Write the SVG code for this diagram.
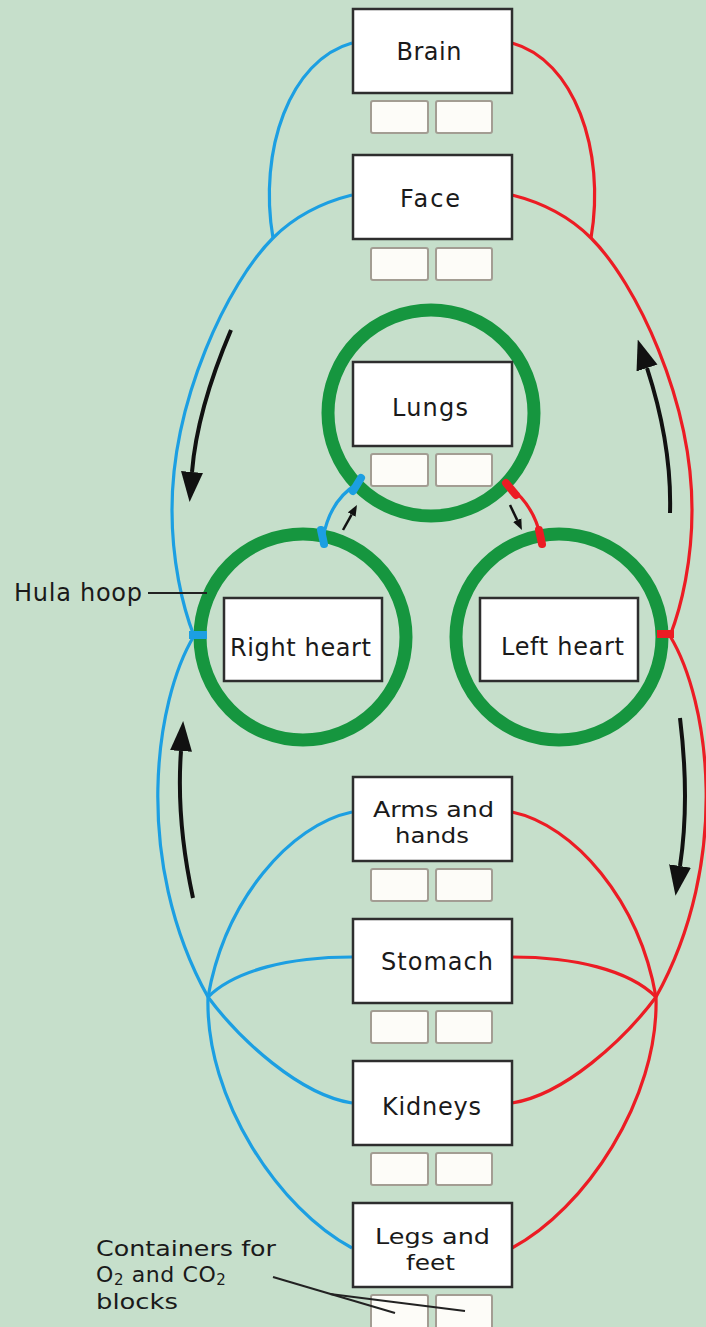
<svg xmlns="http://www.w3.org/2000/svg" width="706" height="1327" viewBox="0 0 706 1327">
<defs>
<style>
.bg{fill:#c6dfcb}
.box{fill:#ffffff;stroke:#2e2e2e;stroke-width:2.5}
.cont{fill:#fdfcf8;stroke:#a39d93;stroke-width:2}
.ring{fill:none;stroke:#16963f;stroke-width:13}
.lbl{font-family:"DejaVu Sans","Liberation Sans",sans-serif;font-size:24px;fill:#1a1a1a;text-anchor:middle}
.lbl2{font-family:"DejaVu Sans","Liberation Sans",sans-serif;font-size:22px;fill:#1a1a1a;text-anchor:middle}
.side{font-family:"DejaVu Sans","Liberation Sans",sans-serif;font-size:24px;fill:#1a1a1a}
.side2{font-family:"DejaVu Sans","Liberation Sans",sans-serif;font-size:22px;fill:#1a1a1a}
.blue{fill:none;stroke:#1c9fe2;stroke-width:3.2}
.red{fill:none;stroke:#ec1c24;stroke-width:3.2}
.btick{stroke:#1c9fe2;stroke-width:8;stroke-linecap:round}
.rtick{stroke:#ec1c24;stroke-width:8;stroke-linecap:round}
.barrow{fill:none;stroke:#111;stroke-width:4;marker-end:url(#bigHead)}
.sarrow{fill:none;stroke:#111;stroke-width:2.5;marker-end:url(#smallHead)}
.pointer{fill:none;stroke:#222;stroke-width:2}
</style>
<marker id="bigHead" markerUnits="userSpaceOnUse" viewBox="0 -12 30 24" refX="0" refY="0" markerWidth="30" markerHeight="24" orient="auto">
<path d="M0,-11 L30,0 L0,11 z" fill="#111"/>
</marker>
<marker id="smallHead" markerUnits="userSpaceOnUse" viewBox="0 -5 12 10" refX="0" refY="0" markerWidth="12" markerHeight="10" orient="auto">
<path d="M0,-4.5 L11,0 L0,4.5 z" fill="#111"/>
</marker>
</defs>
<rect class="bg" x="0" y="0" width="706" height="1327"/>

<g id="rings">
<circle class="ring" cx="431" cy="413" r="103"/>
<circle class="ring" cx="303" cy="637" r="103"/>
<circle class="ring" cx="559" cy="637" r="103"/>
</g>

<g id="connectors">
<path class="blue" d="M352,43 C290,60 258,150 273,238"/>
<path class="blue" d="M352,195 C320,203 293,218 273,238 C228,283 172,400 172,510 C172,560 182,605 194,636"/>
<path class="blue" d="M194,636 C155,700 132,860 208,997"/>
<path class="blue" d="M352,812 C290,825 225,900 208,997"/>
<path class="blue" d="M352,957 C290,957 235,970 208,997"/>
<path class="blue" d="M352,1103 C300,1095 240,1040 208,997"/>
<path class="blue" d="M352,1248 C280,1210 205,1100 208,997"/>
<path class="blue" d="M357,484 Q330,500 323,538"/>
<path class="red" d="M512,43 C574,60 606,150 591,238"/>
<path class="red" d="M512,195 C544,203 571,218 591,238 C636,283 692,400 692,510 C692,560 682,605 670,636"/>
<path class="red" d="M670,636 C709,700 732,860 656,997"/>
<path class="red" d="M512,812 C574,825 639,900 656,997"/>
<path class="red" d="M512,957 C574,957 629,970 656,997"/>
<path class="red" d="M512,1103 C564,1095 624,1040 656,997"/>
<path class="red" d="M512,1248 C584,1210 659,1100 656,997"/>
<path class="red" d="M511,488 Q534,506 541,538"/>
<line class="btick" x1="353" y1="491" x2="361" y2="478"/>
<line class="btick" x1="321" y1="530" x2="324" y2="544"/>
<line class="rtick" x1="506" y1="483" x2="516" y2="495"/>
<line class="rtick" x1="539" y1="530" x2="542" y2="544"/>
<line x1="189" y1="635" x2="207" y2="635" stroke="#1c9fe2" stroke-width="8"/>
<line x1="657" y1="634" x2="674" y2="634" stroke="#ec1c24" stroke-width="8"/>
<path class="barrow" d="M231,330 Q197,410 192,472"/>
<path class="barrow" d="M670,513 Q672,445 647,368"/>
<path class="barrow" d="M193,898 Q176,820 181,751"/>
<path class="barrow" d="M680,718 Q690,800 680,866"/>
<path class="sarrow" d="M343,530 L351.6,514.6"/>
<path class="sarrow" d="M510,505 L517.2,520.1"/>
</g>

<g id="brain">
<rect class="box" x="353" y="9" width="159" height="84"/>
<text class="lbl" x="429" y="60" textLength="65">Brain</text>
<rect class="cont" x="371" y="101" width="57" height="32" rx="2"/>
<rect class="cont" x="436" y="101" width="56" height="32" rx="2"/>
</g>
<g id="face">
<rect class="box" x="353" y="155" width="159" height="84"/>
<text class="lbl" x="430" y="207" textLength="60">Face</text>
<rect class="cont" x="371" y="248" width="57" height="32" rx="2"/>
<rect class="cont" x="436" y="248" width="56" height="32" rx="2"/>
</g>
<g id="lungs">
<rect class="box" x="353" y="362" width="159" height="84"/>
<text class="lbl" x="430" y="416" textLength="76">Lungs</text>
<rect class="cont" x="371" y="454" width="57" height="32" rx="2"/>
<rect class="cont" x="436" y="454" width="56" height="32" rx="2"/>
</g>
<g id="right-heart">
<rect class="box" x="224" y="598" width="158" height="83"/>
<text class="lbl" x="300.5" y="656" textLength="141">Right heart</text>
</g>
<g id="left-heart">
<rect class="box" x="480" y="598" width="158" height="83"/>
<text class="lbl" x="562.5" y="655" textLength="123">Left heart</text>
</g>
<g id="arms">
<rect class="box" x="353" y="777" width="159" height="84"/>
<text class="lbl2"><tspan x="433.5" y="817" textLength="121" lengthAdjust="spacingAndGlyphs">Arms and</tspan><tspan x="432" y="843" textLength="74" lengthAdjust="spacingAndGlyphs">hands</tspan></text>
<rect class="cont" x="371" y="869" width="57" height="32" rx="2"/>
<rect class="cont" x="436" y="869" width="56" height="32" rx="2"/>
</g>
<g id="stomach">
<rect class="box" x="353" y="919" width="159" height="84"/>
<text class="lbl" x="437" y="970" textLength="112">Stomach</text>
<rect class="cont" x="371" y="1011" width="57" height="32" rx="2"/>
<rect class="cont" x="436" y="1011" width="56" height="32" rx="2"/>
</g>
<g id="kidneys">
<rect class="box" x="353" y="1061" width="159" height="84"/>
<text class="lbl" x="431.5" y="1115" textLength="99">Kidneys</text>
<rect class="cont" x="371" y="1153" width="57" height="32" rx="2"/>
<rect class="cont" x="436" y="1153" width="56" height="32" rx="2"/>
</g>
<g id="legs">
<rect class="box" x="353" y="1203" width="159" height="84"/>
<text class="lbl2"><tspan x="432.5" y="1244" textLength="115" lengthAdjust="spacingAndGlyphs">Legs and</tspan><tspan x="430.5" y="1270" textLength="49" lengthAdjust="spacingAndGlyphs">feet</tspan></text>
<rect class="cont" x="371" y="1295" width="57" height="34" rx="2"/>
<rect class="cont" x="436" y="1295" width="56" height="34" rx="2"/>
</g>

<g id="hula-hoop-label">
<text class="side" x="14" y="601" textLength="128">Hula hoop</text>
<line class="pointer" x1="148" y1="593" x2="207" y2="593"/>
</g>
<g id="containers-label">
<text class="side2"><tspan x="96" y="1256" textLength="180" lengthAdjust="spacingAndGlyphs">Containers for</tspan><tspan x="96" y="1282" letter-spacing="0.6">O</tspan><tspan font-size="15" dy="3" letter-spacing="0.6">2</tspan><tspan dy="-3" letter-spacing="0.6"> and CO</tspan><tspan font-size="15" dy="3">2</tspan><tspan x="96" y="1309" textLength="82" lengthAdjust="spacingAndGlyphs">blocks</tspan></text>
<path class="pointer" d="M273,1277 L395,1313"/>
<path class="pointer" d="M330,1294 L465,1311"/>
</g>
</svg>
